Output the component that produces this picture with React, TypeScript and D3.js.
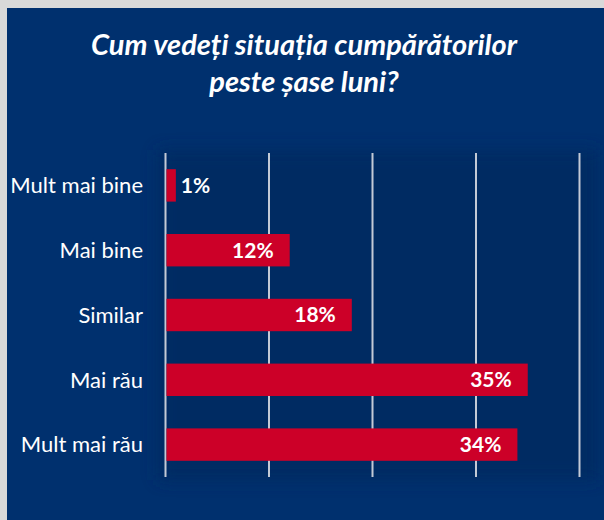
import React from "react";
import * as d3 from "d3";

const categories = ["Mult mai bine", "Mai bine", "Similar", "Mai rău", "Mult mai rău"];
const values = [1, 12, 18, 35, 34];
const gridTicks = [0, 10, 20, 30, 40];
const titleLines = ["Cum vedeți situația cumpărătorilor", "peste șase luni?"];

const W = 604;
const H = 520;
const FONT = "Lato, 'Open Sans', sans-serif";

export default function App() {
  const x = d3.scaleLinear().domain([0, 40]).range([165.5, 579.5]);
  const y = d3
    .scaleBand<string>()
    .domain(categories)
    .range([153, 477])
    .paddingInner(0.5)
    .paddingOuter(0.25);

  return (
    <svg
      width={W}
      height={H}
      style={{ position: "absolute", left: 0, top: 0, display: "block" }}
    >
      <defs>
        <filter id="soft" x="-10%" y="-10%" width="120%" height="120%">
          <feGaussianBlur stdDeviation="8" />
        </filter>
      </defs>
      <rect x={0} y={0} width={W} height={H} fill="#d9d9d9" />
      <rect x={7} y={8} width={W - 7} height={H - 8} fill="#00306e" />
      <rect
        x={158}
        y={150}
        width={440}
        height={330}
        fill="#002a60"
        filter="url(#soft)"
        opacity={0.8}
      />
      {titleLines.map((t, i) => (
        <text
          key={i}
          x={304}
          y={55 + i * 37}
          textAnchor="middle"
          fill="#ffffff"
          fontFamily={FONT}
          fontStyle="italic"
          fontWeight="bold"
          fontSize={29}
        >
          {t}
        </text>
      ))}
      {gridTicks.map((t) => (
        <line
          key={t}
          x1={x(t)}
          x2={x(t)}
          y1={153}
          y2={477}
          stroke="#c3cad6"
          strokeWidth={2}
        />
      ))}
      {categories.map((c, i) => {
        const v = values[i];
        const by = y(c)!;
        const bh = y.bandwidth();
        const inside = v >= 5;
        return (
          <g key={c}>
            <rect
              x={x(0) + 1}
              y={by}
              width={x(v) - x(0) - 1}
              height={bh}
              fill="#cc0028"
            />
            <text
              x={143}
              y={by + bh / 2}
              dy="0.35em"
              textAnchor="end"
              fill="#ffffff"
              fontFamily={FONT}
              fontSize={22}
            >
              {c}
            </text>
            <text
              x={inside ? x(v) - 16 : x(v) + 5}
              y={by + bh / 2}
              dy="0.35em"
              textAnchor={inside ? "end" : "start"}
              fill="#ffffff"
              fontFamily={FONT}
              fontWeight="bold"
              fontSize={21}
            >
              {v}%
            </text>
          </g>
        );
      })}
    </svg>
  );
}
